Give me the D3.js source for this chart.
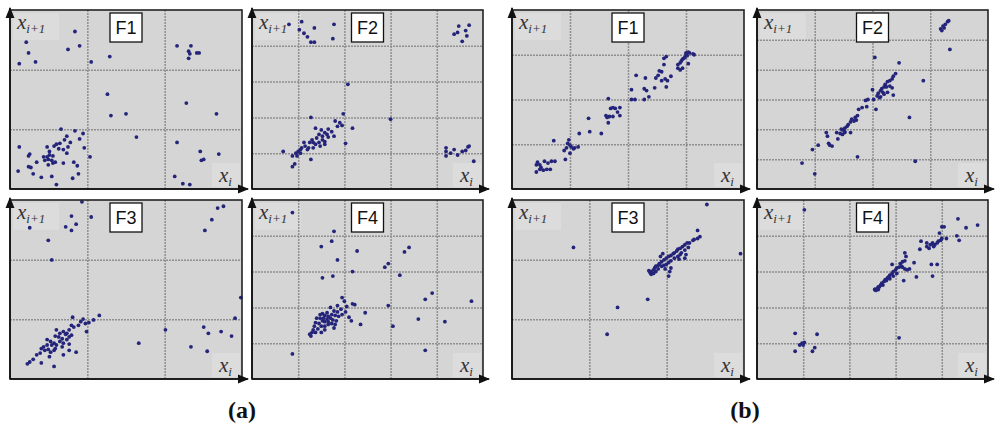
<!DOCTYPE html>
<html><head><meta charset="utf-8">
<script src="https://cdn.jsdelivr.net/npm/d3@7"></script>
<style>body{margin:0;background:#fff}svg{display:block}</style>
</head><body>
<svg id="c" width="1000" height="429"></svg>
<script>
// ---- data (x_i, x_{i+1}) in percent of each panel's range ----
const groups = ["(a)", "(b)"];
const panelNames = ["F1", "F2", "F3", "F4"];
const xLabel = "x", xSub = "i", yLabel = "x", ySub = "i+1";

const aF1 = [[28,88],[7,82],[8,76],[25,78],[30,80],[4,70],[11,71],[35,71],[43,74],
  [72,80],[78,80],[77,77],[77.5,75.5],[80.5,76],[81.5,76],[77,73],
  [42,53],[76,48],[89,42],[43.5,41],[50,42],[54.5,29],
  [72,26],[82,21],[90,19.5],[82.5,16],[83.5,16.5],[71,7],[74.5,3],[77.5,2.5],
  [22,33.5],[28,32.5],[24.5,29.5],[31.5,31],[30,28],[23.5,27.5],[4,23.5],[19,24],[20,25],[21.5,25.5],
  [26,26],[25,23.5],[32,23],[8.5,19.5],[8,18.5],[14.5,18],[16,18],[17,19],[18.5,18.5],[16.5,16.5],
  [18,16],[19.5,15],[15,16],[24.5,20],[34.5,18],[11.5,15],[23,14.5],[27.5,15],[29,13],[8,12.5],
  [9,12],[3.5,10],[10,8.5],[13.5,6.5],[18,7],[20,2.5],[27,6],[29.5,8.5],[17,21],[21,22.5],
  [23,22],[16,23.5],[18.5,14.5],[16.5,13.5]];

const aF2 = [[16,92],[21.5,93.5],[20.5,89],[27,90],[35.5,92],[22.5,87],[24,85],[25.5,82],[27,82],[35,84],
  [94,91.5],[89.5,91],[87.5,86.5],[89,87.5],[92.5,88.5],[93,85.5],[91,82.5],
  [41.5,58.5],[60,39],
  [39.5,42],[25.5,40],[36,38],[38,37],[39,35.5],[37,35],[43.5,34],[27.5,34],[30,33],[33,33.5],
  [31.5,31.5],[32.5,30.5],[34.5,32],[35.5,29.5],[33,29],[30.5,29.5],[29,30.5],[28,28.5],[26,27.5],[25,26],
  [26.5,26],[27.5,25],[29,26],[30.5,27.5],[31.5,26.5],[31.5,25],[23,24],[24,22],[22.5,26],[24.5,23],
  [21.5,23],[20,21],[21,20],[19,20],[19.5,18.5],[17.5,18.5],[21,22],[40.5,25.5],[13.5,21],[25.5,16.5],
  [18.5,14],[17.5,12.5],[29.5,24],[26.5,23],
  [84,23],[84,21],[84,18.5],[86,20],[87.5,22],[89,19],[91,21],[93.5,23.5],[94,24],[92.5,21.5],[96,15.5]];

const aF3 = [[31,99],[26.5,91],[35,90.5],[8.5,84.5],[24,85],[28.5,86.5],[26.5,83],[16.5,77.5],[18,66.5],
  [89.5,95.5],[92,96.5],[87,89],[84,83],
  [99.5,45.5],[97,34],[83.5,29],[85.5,25.5],[91,26.5],[95.5,24],[78,18],[85,15.5],[67,27.5],[55.5,20],
  [38.5,35.5],[31.5,33.5],[36,33],[34,31.5],[32.5,31],[30.5,32],[27,34.5],[29.5,30],[27.5,29],[26.5,30],
  [25.5,27.5],[24.5,25.5],[24,25],[23,26.5],[21.5,25.5],[20,27.5],[19.5,24],[21,23.5],[22.5,22.5],[21.5,21],
  [24.5,22],[25.5,23.5],[26.5,24.5],[33,26.5],[17.5,21],[18,19],[19,20],[16,19],[14.5,18],[15,16],
  [16.5,16.5],[17.5,15],[19,16],[19.5,17],[13.5,17],[13,14.5],[11.5,13.5],[10,11],[8.5,9.5],[7.5,8.5],
  [13.5,9],[19,7],[23,13.5],[25.5,16],[28.5,15],[22.5,18],[20,19],[17,12.5],[16,22],[23,20],[25.5,19.5]];

const aF4 = [[17.5,93],[35.5,82.5],[34.5,77],[30,74],[45.5,71.5],[37,66.5],[68,73.5],[66,71],[59,64.5],
  [57.5,62.5],[43.5,60],[64,58],[30.5,56.5],[35,57.5],
  [78,48],[75,44.5],[95,43.5],[59,41],[72,33.5],[83.5,32],[61,29.5],[47,30.5],[49,37],[75,16],[17.5,14],
  [39,45.5],[40,43.5],[43.5,42],[44.5,41.5],[41,40.5],[37,41],[34,40],[38.5,39],[37,37.5],[35.5,38],
  [32.5,37],[29.5,36],[30.5,36.5],[31.5,35.5],[33,35],[34.5,36],[36,35.5],[37.5,35],[34,34],[32.5,33.5],
  [31,34],[29.5,34],[30.5,32.5],[31.5,32],[33,32],[35,33],[36.5,32.5],[36,30.5],[34.5,31],[33,30.5],
  [31.5,29.5],[30,29.5],[29,31],[27.5,31.5],[27,29.5],[28.5,28],[26.5,27.5],[26,26],[25,25],[25.5,24],
  [27.5,26],[30,26],[31.5,27.5],[35.5,28.5],[42,34.5],[43,32.5],[39,36],[40.5,37.5],[28,34]];

const bF1 = [[75,76],[76,76.5],[76.5,76],[78,75.5],[78.5,75],[75.5,74.5],[74.5,73.5],[73.5,72.5],[73,71.5],
  [72.5,70.5],[71.5,69.5],[76,70],[75,75],[74,73],
  [66.5,74],[65.5,73],[65.5,69.5],[63.5,66],[63,63.5],[64.5,65.5],[66,61.5],[64.5,60.5],[67,60.5],[66.5,57],
  [68.5,63],[62,62],[71.5,67.5],[72.5,66.5],[73.5,67.5],[61.5,56.5],[53.5,63.5],[57.5,62],[51.5,55.5],[57,56],
  [58,55],[59,51.5],[57,50],[51.5,50],[53,50],[41.5,50.5],[42.5,45],[43.5,45.5],[44.5,45],[46.5,45.5],
  [45.5,43],[46.5,41],[40.5,41],[41,40],[42,40.5],[43.5,40.5],[41.5,37],[33,39.5],[38.5,31],[33.5,32],
  [29,31],[18,27],[24.5,27.5],[24,25.5],[25,24.5],[25.5,23.5],[26.5,22.5],[27,23],[28.5,23.5],[23.5,23],
  [22.5,21.5],[25,20],[23,16.5],[14,15.5],[11,15],[10.5,13.5],[12,13.5],[15.5,14.5],[17,15.5],[18.5,15.5],
  [12.5,12],[15,11],[16.5,11],[13.5,10.5],[10.5,9.5],[12,11]];

const bF2 = [[79.5,89.5],[80.5,91],[81.5,92],[82.5,93.5],[83,94],[80,88.5],[81,90],[83.5,78],
  [51,73.5],[61.5,70.5],[72,60.5],[60,64.5],[59,63],[58.5,61.5],[57.5,60.5],[56.5,60],[55.5,58.5],[55,57],
  [54,56],[53.5,55],[52.5,53.5],[52,52],[53.5,51.5],[55,53],[56.5,54],[57.5,57.5],[58.5,56.5],[59,52.5],
  [50,55.5],[56,57],[54.5,54],[53,51],[51.5,44.5],[50.5,50],[48,50],[47,49.5],[47.5,46],[45.5,45.5],
  [44,44.5],[43.5,41],[42.5,40],[43,38.5],[42,38],[41,39],[40.5,37.5],[39.5,36],[39,35],[38,34],
  [38,32],[37,33],[36.5,33.5],[37,30.5],[38,31.5],[36,31],[34.5,31.5],[40.5,31.5],[66,40],[30.5,29.5],
  [31,25.5],[31.5,24.5],[32.5,24],[35,28],[30,31.5],[26.5,24.5],[24,22],[43.5,18],[68.5,15.5],[19.5,14.5],
  [25,8.5]];

const bF3 = [[84,97.5],[26.5,73.5],[98.5,70],[58.5,44.5],[45.5,40],[41,25],
  [80,83],[81,79.5],[80,78.5],[78.5,78],[78,77.5],[76.5,76],[75.5,76],[74.5,75],[73.5,74],[72.5,73],
  [71.5,72.5],[71,71.5],[70,70.5],[69.5,70],[68.5,69],[67.5,68.5],[66.5,67.5],[65.5,66.5],[64.5,65.5],[63.5,64.5],
  [63,63.5],[62,63],[61.5,62],[61,61],[60,60],[59.5,59.5],[59,60.5],[60,58.5],[61,59],[62,60],
  [63,61.5],[64.5,63],[65.5,63.5],[66.5,64],[67.5,65],[68.5,66],[70,67.5],[71.5,68.5],[72.5,69.5],[74.5,67.5],
  [75,69.5],[73,70.5],[72,67],[68.5,62],[67.5,57.5],[68,60],[66,61.5],[64,68.5],[65,70],[74.5,72],[76,73.5]];

const bF4 = [[20.5,94.5],[87,89.5],[95.5,86],[90.5,84.5],[81,85],[80,85],[86.5,80],[87.5,77.5],[82,78.5],
  [79,81.5],[71,77],[70.5,72.5],[75.5,64],[78,64],[76,57.5],[61.5,23],
  [51,50],[52,50.5],[52.5,51.5],[53.5,52.5],[54,53.5],[55,54.5],[55.5,55.5],[56.5,56.5],[57,57],[57.5,58],
  [58.5,59],[59,60],[60,61],[60.5,62],[61.5,62.5],[62.5,63],[63,62.5],[64,61.5],[65,61],[66,61.5],
  [68,65],[69,57],[63.5,55],[64,70.5],[64.5,68.5],[64,66],[63,65.5],[62,64.5],[58.5,64],[60.5,59],
  [59,57.5],[57.5,56],[56,55],[54.5,52.5],[52.5,50],[51,50],[51.5,49.5],[53,51.5],
  [73.5,76],[75,75],[76,75.5],[76.5,74],[77,75],[78,76],[78.5,77],[79.5,77.5],[80,78.5],[74.5,73],
  [73.5,74],[76,76],
  [16.5,25.5],[26,25],[18.5,19],[19.5,20],[20.5,20.5],[20,19],[25,17.5],[24,15.5],[16.5,15.5]];

// grid divisions per panel [x divisions, y divisions]
const gridDiv = {aF1:[3,3], aF2:[5,5], aF3:[3,3], aF4:[5,5], bF1:[4,4], bF2:[4,6], bF3:[3,3], bF4:[5,5]};
const panelData = {aF1, aF2, aF3, aF4, bF1, bF2, bF3, bF4};

// ---- layout ----
const colX = [[10,242],[252,483],[512,744],[757,988]];
const rowY = [[10,189],[200,379]];
const svg = d3.select("#c");

const defs = svg.append("defs");
defs.append("marker").attr("id","arr").attr("viewBox","0 0 10 10").attr("refX",9).attr("refY",5)
  .attr("markerWidth",7).attr("markerHeight",7).attr("orient","auto-start-reverse")
  .append("path").attr("d","M0,1 L10,5 L0,9 Z").attr("fill","#111");

groups.forEach((g, gi) => {
  panelNames.forEach((name, pi) => {
    const key = (gi === 0 ? "a" : "b") + name;
    const col = gi * 2 + (pi % 2), row = Math.floor(pi / 2);
    const [x0, x1] = colX[col], [y0, y1] = rowY[row];
    const x = d3.scaleLinear().domain([0,100]).range([x0, x1]);
    const y = d3.scaleLinear().domain([0,100]).range([y1, y0]);
    const [nx, ny] = gridDiv[key];
    const G = svg.append("g");

    G.append("rect").attr("x",x0).attr("y",y0).attr("width",x1-x0).attr("height",y1-y0)
      .attr("fill","#d5d5d5");
    // label backgrounds
    G.append("rect").attr("x",x0+3).attr("y",y0+3).attr("width",46).attr("height",27).attr("fill","#dcdcdc");
    G.append("rect").attr("x",x1-30).attr("y",y1-26).attr("width",28).attr("height",24).attr("fill","#dcdcdc");

    // grid via axes
    const gx = G.append("g").attr("transform",`translate(0,${y1})`)
      .call(d3.axisBottom(x).tickValues(d3.range(1,nx).map(k=>k*100/nx)).tickSize(-(y1-y0)).tickFormat(""));
    const gy = G.append("g").attr("transform",`translate(${x0},0)`)
      .call(d3.axisLeft(y).tickValues(d3.range(1,ny).map(k=>k*100/ny)).tickSize(-(x1-x0)).tickFormat(""));
    [gx, gy].forEach(a => {
      a.select(".domain").remove();
      a.selectAll(".tick line").attr("stroke","#8f8f8f").attr("stroke-width",1.5).attr("stroke-dasharray","2,1");
    });

    // points
    G.append("g").selectAll("circle").data(panelData[key]).join("circle")
      .attr("cx", d => x(d[0])).attr("cy", d => y(d[1])).attr("r", 1.9)
      .attr("fill", "#24247a");

    // frame
    G.append("rect").attr("x",x0).attr("y",y0).attr("width",x1-x0).attr("height",y1-y0)
      .attr("fill","none").attr("stroke","#222").attr("stroke-width",1.6);
    // axes with arrows
    G.append("line").attr("x1",x0).attr("y1",y1).attr("x2",x0).attr("y2",y0-2)
      .attr("stroke","#111").attr("stroke-width",1.6).attr("marker-end","url(#arr)");
    G.append("line").attr("x1",x0).attr("y1",y1).attr("x2",x1+6).attr("y2",y1)
      .attr("stroke","#111").attr("stroke-width",1.6).attr("marker-end","url(#arr)");

    // title box
    const cx = (x0 + x1) / 2;
    G.append("rect").attr("x",cx-16).attr("y",y0+3).attr("width",32).attr("height",29)
      .attr("fill","#fff").attr("stroke","#111").attr("stroke-width",1.3);
    G.append("text").attr("x",cx).attr("y",y0+24).attr("text-anchor","middle")
      .attr("font-family","'Liberation Sans', Arial, sans-serif").attr("font-size",18).attr("fill","#111")
      .text(name);

    // axis labels
    const ty = G.append("text").attr("x",x0+7).attr("y",y0+19)
      .attr("font-family","'Liberation Serif','Times New Roman',serif").attr("font-style","italic")
      .attr("font-size",21).attr("fill","#333");
    ty.append("tspan").text(yLabel);
    ty.append("tspan").attr("font-size",13).attr("dy",4).text(ySub);
    const tx = G.append("text").attr("x",x1-23).attr("y",y1-7)
      .attr("font-family","'Liberation Serif','Times New Roman',serif").attr("font-style","italic")
      .attr("font-size",21).attr("fill","#333");
    tx.append("tspan").text(xLabel);
    tx.append("tspan").attr("font-size",13).attr("dy",4).text(xSub);
  });
});

// group labels
const gLabelX = [242, 745];
groups.forEach((g, gi) => {
  svg.append("text").attr("x", gLabelX[gi]).attr("y", 418).attr("text-anchor","middle")
    .attr("font-family","'Liberation Serif','Times New Roman',serif").attr("font-weight","bold")
    .attr("font-size",24).attr("fill","#111").text(g);
});
</script>
</body></html>
